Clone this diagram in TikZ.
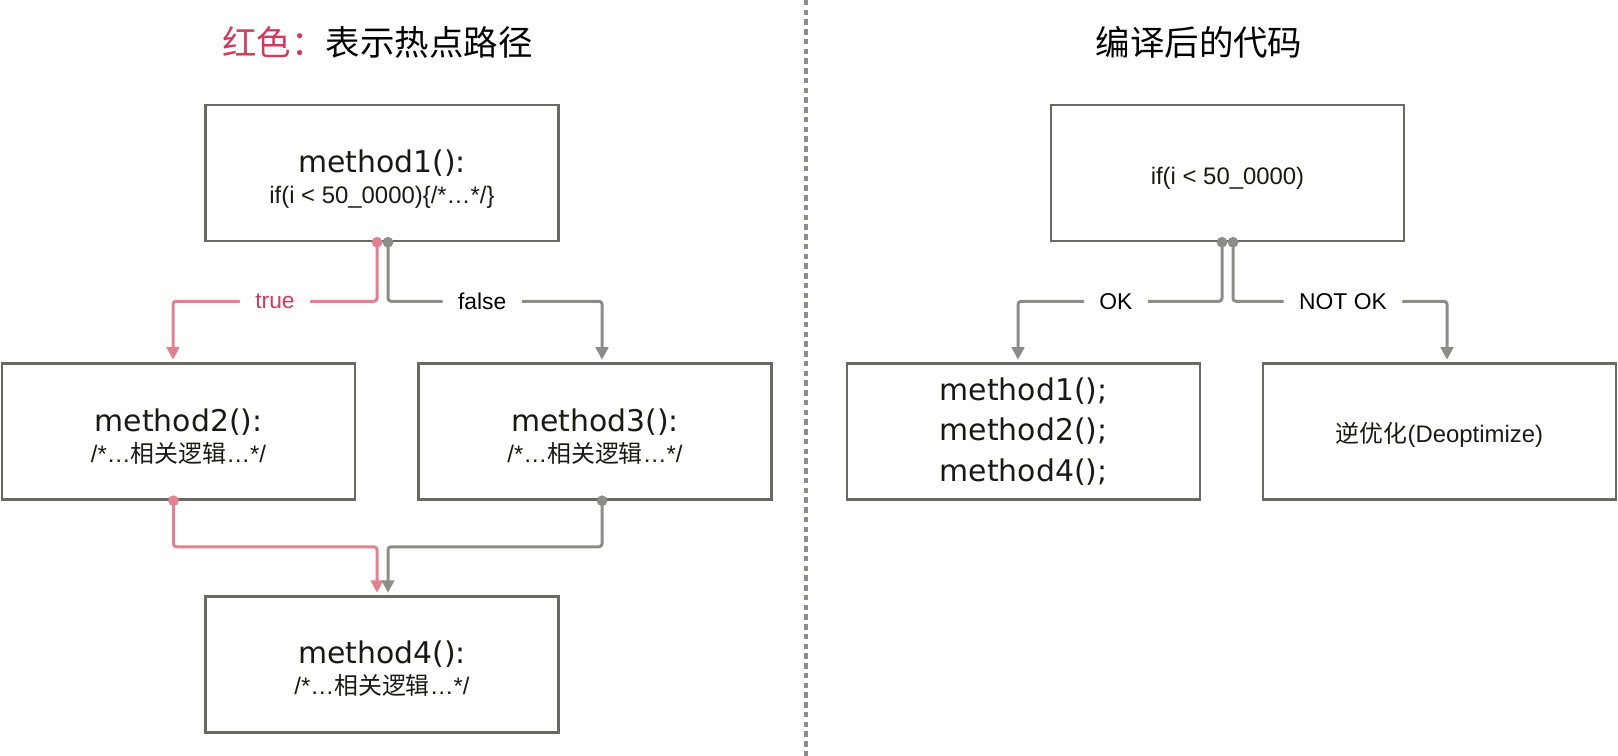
\documentclass[tikz,border=0pt]{standalone}
\usepackage{fontspec}
\usepackage{tikz}
\usetikzlibrary{arrows.meta}
\setmainfont{Liberation Sans}
\newfontfamily\cjk{Noto Sans CJK SC}
\newfontfamily\wide{DejaVu Sans}
\definecolor{hotpink}{HTML}{E2818F}
\definecolor{hotred}{HTML}{D03A5C}
\definecolor{coldgrey}{HTML}{8D8D87}
\definecolor{boxgrey}{HTML}{6A6A65}
\definecolor{ink}{HTML}{1A1A14}
\newcommand{\methodfnt}{\wide\fontsize{17}{23.2}\selectfont}
\newcommand{\codefnt}{\fontsize{13.6}{18.1}\selectfont}
\newcommand{\lblfnt}{\fontsize{13}{15}\selectfont}
\newcommand{\titlefnt}{\cjk\fontsize{19.6}{23}\selectfont}
\newcommand{\topstrut}[1]{\rule{0pt}{#1}}

\begin{document}
\begin{tikzpicture}[x=0.2mm, y=-0.2mm,
    box/.style = {draw=boxgrey, line width=0.5mm, minimum width=70.6mm, minimum height=27.2mm, inner sep=0pt, align=center, text=ink, font=\codefnt},
    hot/.style = {draw=hotpink, line width=0.6mm, rounded corners=0.6mm, {Circle[length=2.1mm]}-{Triangle[length=2.5mm,width=2.5mm]}, shorten <=-1.05mm, shorten >=0.5mm},
    cold/.style = {hot, draw=coldgrey},
    lbl/.style = {fill=white, inner xsep=3.1mm, inner ysep=0.8mm, font=\lblfnt, text=black}]
      \useasboundingbox (0,0) rectangle (1618,756);

      \node[font=\titlefnt] (t_l) at (377.5,42) {\textcolor{hotred}{红色：}表示热点路径};
      \node[font=\titlefnt] (t_r) at (1199,42) {编译后的代码};
      \draw[coldgrey, line width=0.65mm, dash pattern=on 1.1mm off 0.85mm] (806,0) -- (806,756);

      \node[box] (m_1) at (382,173) {\topstrut{7mm}{\methodfnt method1():}\\if(i < 50\_0000)\{/*…*/\}};
      \node[box] (m_2) at (178.5,431.5) {\topstrut{6.6mm}{\methodfnt method2():}\\/*…{\cjk 相关逻辑}…*/};
      \node[box] (m_3) at (595,431.5) {\topstrut{6.6mm}{\methodfnt method3():}\\/*…{\cjk 相关逻辑}…*/};
      \node[box] (m_4) at (382,664.5) {\topstrut{6.2mm}{\methodfnt method4():}\\/*…{\cjk 相关逻辑}…*/};

      \node[box] (r_1) at (1227.5,173) {\topstrut{5.5mm}if(i < 50\_0000)};
      \node[box, font=\methodfnt] (r_2) at (1023.5,431.5) {method1();\\method2();\\method4();};
      \node[box] (r_3) at (1439.5,431.5) {\topstrut{5.2mm}{\cjk 逆优化}(Deoptimize)};

      \draw[hot] ([xshift=-1mm]m_1.south) -- ++(0,59) -| node[lbl, pos=0.25, text=hotred] {true} ([xshift=-1.1mm]m_2.north);
      \draw[cold] ([xshift=1.2mm]m_1.south) -- ++(0,59) -| node[lbl, pos=0.22] {false} ([xshift=1.4mm]m_3.north);
      \draw[hot] ([xshift=-1mm]m_2.south) -- ++(0,46) -| ([xshift=-1mm]m_4.north);
      \draw[cold] ([xshift=1.4mm]m_3.south) -- ++(0,46) -| ([xshift=1.2mm]m_4.north);

      \draw[cold] ([xshift=-1.1mm]r_1.south) -- ++(0,59) -| node[lbl, pos=0.26] {OK} ([xshift=-1.1mm]r_2.north);
      \draw[cold] ([xshift=1.1mm]r_1.south) -- ++(0,59) -| node[lbl, pos=0.257] {NOT OK} ([xshift=1.5mm]r_3.north);
    \end{tikzpicture}
\end{document}
